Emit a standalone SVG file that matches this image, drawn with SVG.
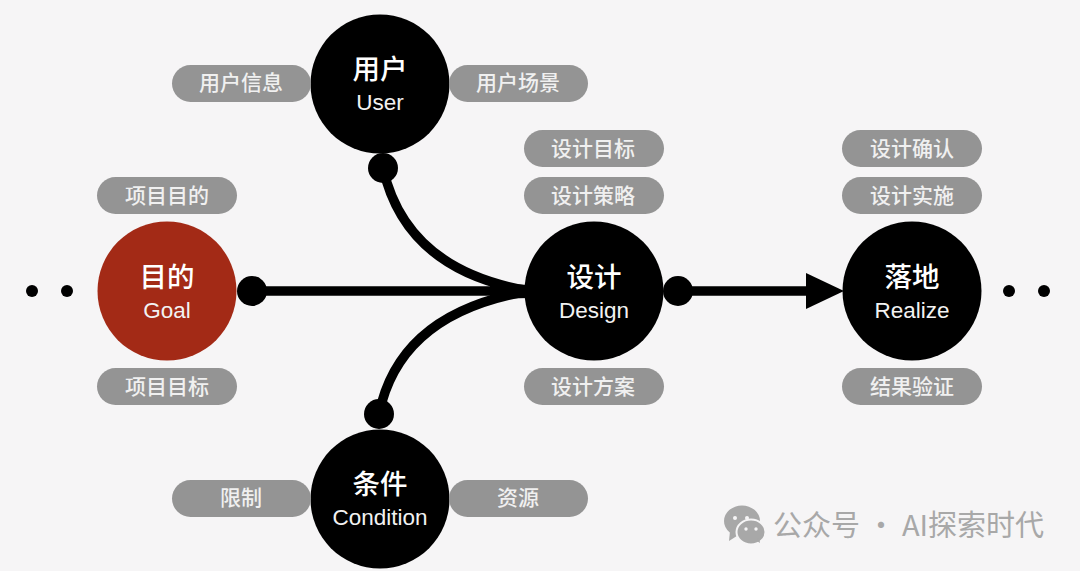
<svg xmlns="http://www.w3.org/2000/svg" width="1080" height="571" viewBox="0 0 1080 571">
<style>
text{font-family:"Liberation Sans","Noto Sans CJK SC",sans-serif;text-anchor:middle}
.p{fill:#949494}
.pt{font-family:"Noto Sans CJK SC",sans-serif;font-size:21px;fill:#f0f0f0;font-weight:500}
.big{font-family:"Noto Sans CJK SC",sans-serif;font-size:27.500px;fill:#fff;font-weight:500}
.en{font-size:22.500px;fill:#f2f2f2}
.c{fill:#000}
.l{fill:none;stroke:#000;stroke-width:9.500}
.wm{font-family:"Noto Sans CJK SC",sans-serif;font-size:29px;fill:#a8a8a8;text-anchor:start}
</style>
<rect width="1080" height="571" fill="#f6f5f6"/>
<g id="connectors">
<path class="l" d="M252 291H530"/>
<path class="l" d="M383 168C398 235 445 277 530 291"/>
<path class="l" d="M379 414C393 345 445 305 530 291"/>
<path d="M490 283L530 285V298L490 299Z" class="c"/>
<path class="l" d="M678 291H810"/>
<path class="c" d="M806 273L844 291L806 309Z"/>
<circle class="c" cx="252" cy="291" r="15"/>
<circle class="c" cx="383" cy="168" r="15"/>
<circle class="c" cx="379" cy="414" r="15"/>
<circle class="c" cx="678" cy="291" r="15"/>
</g>
<g id="dots-left"><circle class="c" cx="32" cy="291" r="6"/><circle class="c" cx="67" cy="291" r="6"/></g>
<g id="dots-right"><circle class="c" cx="1009" cy="291" r="6"/><circle class="c" cx="1044" cy="291" r="6"/></g>
<g id="goal"><circle cx="167" cy="291" r="69.500" fill="#a32a16"/><text class="big" x="167" y="287">目的</text><text class="en" x="167" y="318">Goal</text></g>
<g id="user"><circle class="c" cx="380" cy="84" r="69.500"/><text class="big" x="380" y="79">用户</text><text class="en" x="380" y="110">User</text></g>
<g id="design"><circle class="c" cx="594" cy="291" r="69.500"/><text class="big" x="594" y="287">设计</text><text class="en" x="594" y="318">Design</text></g>
<g id="realize"><circle class="c" cx="912" cy="291" r="69.500"/><text class="big" x="912" y="287">落地</text><text class="en" x="912" y="318">Realize</text></g>
<g id="condition"><circle class="c" cx="380" cy="499" r="69.500"/><text class="big" x="380" y="494">条件</text><text class="en" x="380" y="525">Condition</text></g>
<g id="tag-goal-1"><rect class="p" x="97" y="177" width="140" height="37" rx="18.500"/><text class="pt" x="167" y="203">项目目的</text></g>
<g id="tag-goal-2"><rect class="p" x="97" y="368" width="140" height="37" rx="18.500"/><text class="pt" x="167" y="394">项目目标</text></g>
<g id="tag-user-1"><rect class="p" x="172" y="65" width="139" height="37" rx="18.500"/><text class="pt" x="241" y="90">用户信息</text></g>
<g id="tag-user-2"><rect class="p" x="449" y="65" width="139" height="37" rx="18.500"/><text class="pt" x="518" y="90">用户场景</text></g>
<g id="tag-design-1"><rect class="p" x="524" y="130" width="140" height="37" rx="18.500"/><text class="pt" x="593" y="156">设计目标</text></g>
<g id="tag-design-2"><rect class="p" x="524" y="177" width="140" height="37" rx="18.500"/><text class="pt" x="593" y="203">设计策略</text></g>
<g id="tag-design-3"><rect class="p" x="524" y="368" width="140" height="37" rx="18.500"/><text class="pt" x="593" y="394">设计方案</text></g>
<g id="tag-realize-1"><rect class="p" x="842" y="130" width="140" height="37" rx="18.500"/><text class="pt" x="912" y="156">设计确认</text></g>
<g id="tag-realize-2"><rect class="p" x="842" y="177" width="140" height="37" rx="18.500"/><text class="pt" x="912" y="203">设计实施</text></g>
<g id="tag-realize-3"><rect class="p" x="842" y="368" width="140" height="37" rx="18.500"/><text class="pt" x="912" y="394">结果验证</text></g>
<g id="tag-condition-1"><rect class="p" x="172" y="480" width="139" height="37" rx="18.500"/><text class="pt" x="241" y="505">限制</text></g>
<g id="tag-condition-2"><rect class="p" x="449" y="480" width="139" height="37" rx="18.500"/><text class="pt" x="518" y="505">资源</text></g>
<g id="watermark">
<ellipse cx="742" cy="521" rx="18" ry="15.500" fill="#a8a8a8"/>
<path d="M730 531L729 541L740 534Z" fill="#a8a8a8"/>
<ellipse cx="751" cy="532" rx="14.500" ry="12.500" fill="#a8a8a8" stroke="#f6f5f6" stroke-width="2"/>
<path d="M757 541L760 543L759 536Z" fill="#a8a8a8"/>
<circle cx="735" cy="518" r="2" fill="#f6f5f6"/><circle cx="747" cy="518" r="2" fill="#f6f5f6"/>
<circle cx="746" cy="529" r="1.700" fill="#f6f5f6"/><circle cx="756" cy="529" r="1.700" fill="#f6f5f6"/>
<text class="wm" x="773" y="536">公众号 · AI探索时代</text>
</g>
</svg>
